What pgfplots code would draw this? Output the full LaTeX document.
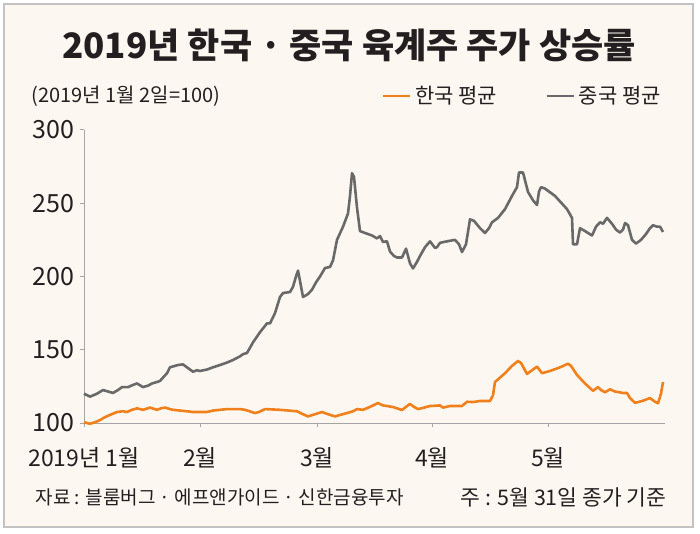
\documentclass[border=0pt]{standalone}
\usepackage{fontspec}
\setmainfont{Noto Sans CJK KR}
\usepackage{pgfplots}
\pgfplotsset{compat=1.18}

\definecolor{bgcream}{RGB}{252,248,241}
\definecolor{framegray}{RGB}{195,195,195}
\definecolor{axisgray}{RGB}{165,165,165}
\definecolor{korange}{RGB}{240,128,28}
\definecolor{cgray}{RGB}{105,105,105}
\definecolor{txt}{RGB}{35,31,32}

\begin{document}
\begin{tikzpicture}[x=1pt,y=1pt]
% page and frame
\fill[white] (0,0) rectangle (700,533);
\filldraw[fill=bgcream, draw=framegray, line width=2.5pt] (4,6) rectangle (693,529);

\node[text=txt, font=\fontsize{35}{35}\selectfont\bfseries] at (349,488)
  {2019년 한국 · 중국 육계주 주가 상승률};
\node[text=txt, anchor=west, font=\fontsize{20}{20}\selectfont] at (28,437)
  {(2019년 1월 2일=100)};

\begin{axis}[
    at={(84pt,110pt)}, anchor=south west,
    scale only axis,
    width=581pt, height=293pt,
    xmin=84, xmax=665,
    ymin=100, ymax=300,
    axis x line*=bottom,
    axis y line*=left,
    axis line style={axisgray, line width=1pt},
    tick style={axisgray, line width=1pt},
    tick align=outside,
    major tick length=4pt,
    xtick={84,200,317,432,548},
    xticklabels={2019년 1월, 2월, 3월, 4월, 5월},
    ytick={100,150,200,250,300},
    /pgf/number format/assume math mode=true,
    ticklabel style={text=txt, font=\fontsize{23}{23}\selectfont},
    xticklabel style={yshift=-17pt},
    yticklabel style={xshift=-2pt, font=\fontsize{25}{25}\selectfont},
    clip=false,
    legend style={at={(1,1.116)}, anchor=east, draw=none, fill=none,
      inner sep=0pt, legend columns=2,
      font=\fontsize{21}{21}\selectfont, text=txt,
      nodes={inner xsep=4pt},
      /tikz/every even column/.append style={column sep=44pt}},
    legend image code/.code={\draw[#1] (0pt,0pt) -- (27pt,0pt);},
  ]

% 한국 평균
\addplot[korange, line width=2.6pt, line join=round] coordinates {
(84,100.5)(90,99.5)(95,100.5)(100,102)(105,104)(110,105.5)(117,107.5)(123,108)
(127,107.5)(132,109)(137,110)(143,109)(150,110.5)(157,109)(161,110)(165,110.5)
(170,109.5)(173,109)(180,108.5)(187,108)(193,107.5)(207,107.5)(213,108.5)
(227,109.5)(240,109.5)(245,109)(255,106.8)(259,107.5)(265,109.5)(280,109)
(297,108)(303,106)(308,104.5)(315,106)(322,107.5)(328,106)(335,104.5)
(340,105.5)(347,106.8)(353,108)(357,109.5)(363,109)(370,111)(378,113.6)
(383,112)(387,111.6)(393,110.9)(402,108.9)(406,111)(410,113)(414,111)
(418,109.5)(424,110.5)(430,111.6)(436,111.8)(440,112)(443,110.5)(450,111.6)
(462,111.6)(467,114.5)(473,114.3)(480,115)(490,115)(493,119)(495,128)
(505,134)(512,139)(518,142.3)(521,141)(527,133.5)(532,136)(537,138.5)
(542,134)(550,135.5)(560,138)(568,140.5)(571,139)(577,132.8)(585,127)
(593,122)(598,124.5)(601,122.5)(605,121)(610,123)(615,121.5)(623,120.5)
(627,120.5)(630,117)(635,113.8)(642,115)(650,117)(655,114.5)(658,113.5)
(661,120)(663,128)
};
\addlegendentry{한국 평균}

% 중국 평균
\addplot[cgray, line width=2.6pt, line join=round] coordinates {
(84,120)(90,118)(97,120)(103,122.5)(108,121.5)(113,120.5)(118,122.5)(122,124.5)
(128,124.5)(133,126)(137,127)(143,124.5)(148,125.5)(152,127)(157,128)
(160,128.7)(163,131)(167,134)(170,138)(175,139)(178,139.6)(183,140)
(188,137.5)(193,135)(197,136)(200,135.5)(207,136.5)(213,138)(220,139.6)
(226,141)(233,143)(240,145.5)(243,147)(247,147.8)(253,155)(260,162)
(267,168)(270,168)(275,175)(280,186)(283,188.7)(290,189.4)(293,193)
(296,200)(298,204)(300,197)(303,186)(308,188)(312,191)(316,196)(320,200)
(325,205.8)(330,206.5)(333,211)(337,225)(343,234)(348,243)(350,255)
(352,270.5)(354,268)(357,247)(360,231)(365,229.7)(372,228)(377,226)
(380,227.6)(383,223.6)(387,224)(390,217)(394,214)(397,213)(402,213)
(406,219)(410,209)(413,205.5)(417,210)(420,214)(425,220)(430,224)
(435,219.5)(437,220)(440,223)(447,224)(455,225)(459,222)(462,216.7)
(466,222)(470,239)(474,238)(480,233)(485,229.7)(489,233)(492,237)
(498,240)(505,246)(512,255)(517,261)(519,271)(523,271)(526,263)
(528,257.7)(533,252)(537,248.8)(539,258)(541,261)(545,260)(555,255)
(567,246)(572,240)(573,222)(577,222)(580,233)(585,231)(592,228)(596,234)
(600,237)(603,236)(607,240)(612,236)(616,232)(620,230)(623,232)
(625,236.5)(628,235)(632,225)(636,222.5)(641,225)(646,229)(650,233)
(653,235)(657,234)(660,234)(663,230.4)
};
\addlegendentry{중국 평균}
\end{axis}

\node[text=txt, anchor=west, font=\fontsize{19}{19}\selectfont] at (32,36)
  {자료 : 블룸버그 · 에프앤가이드 · 신한금융투자};
\node[text=txt, anchor=east, font=\fontsize{21.5}{21.5}\selectfont] at (670,36)
  {주 : 5월 31일 종가 기준};
\end{tikzpicture}
\end{document}
